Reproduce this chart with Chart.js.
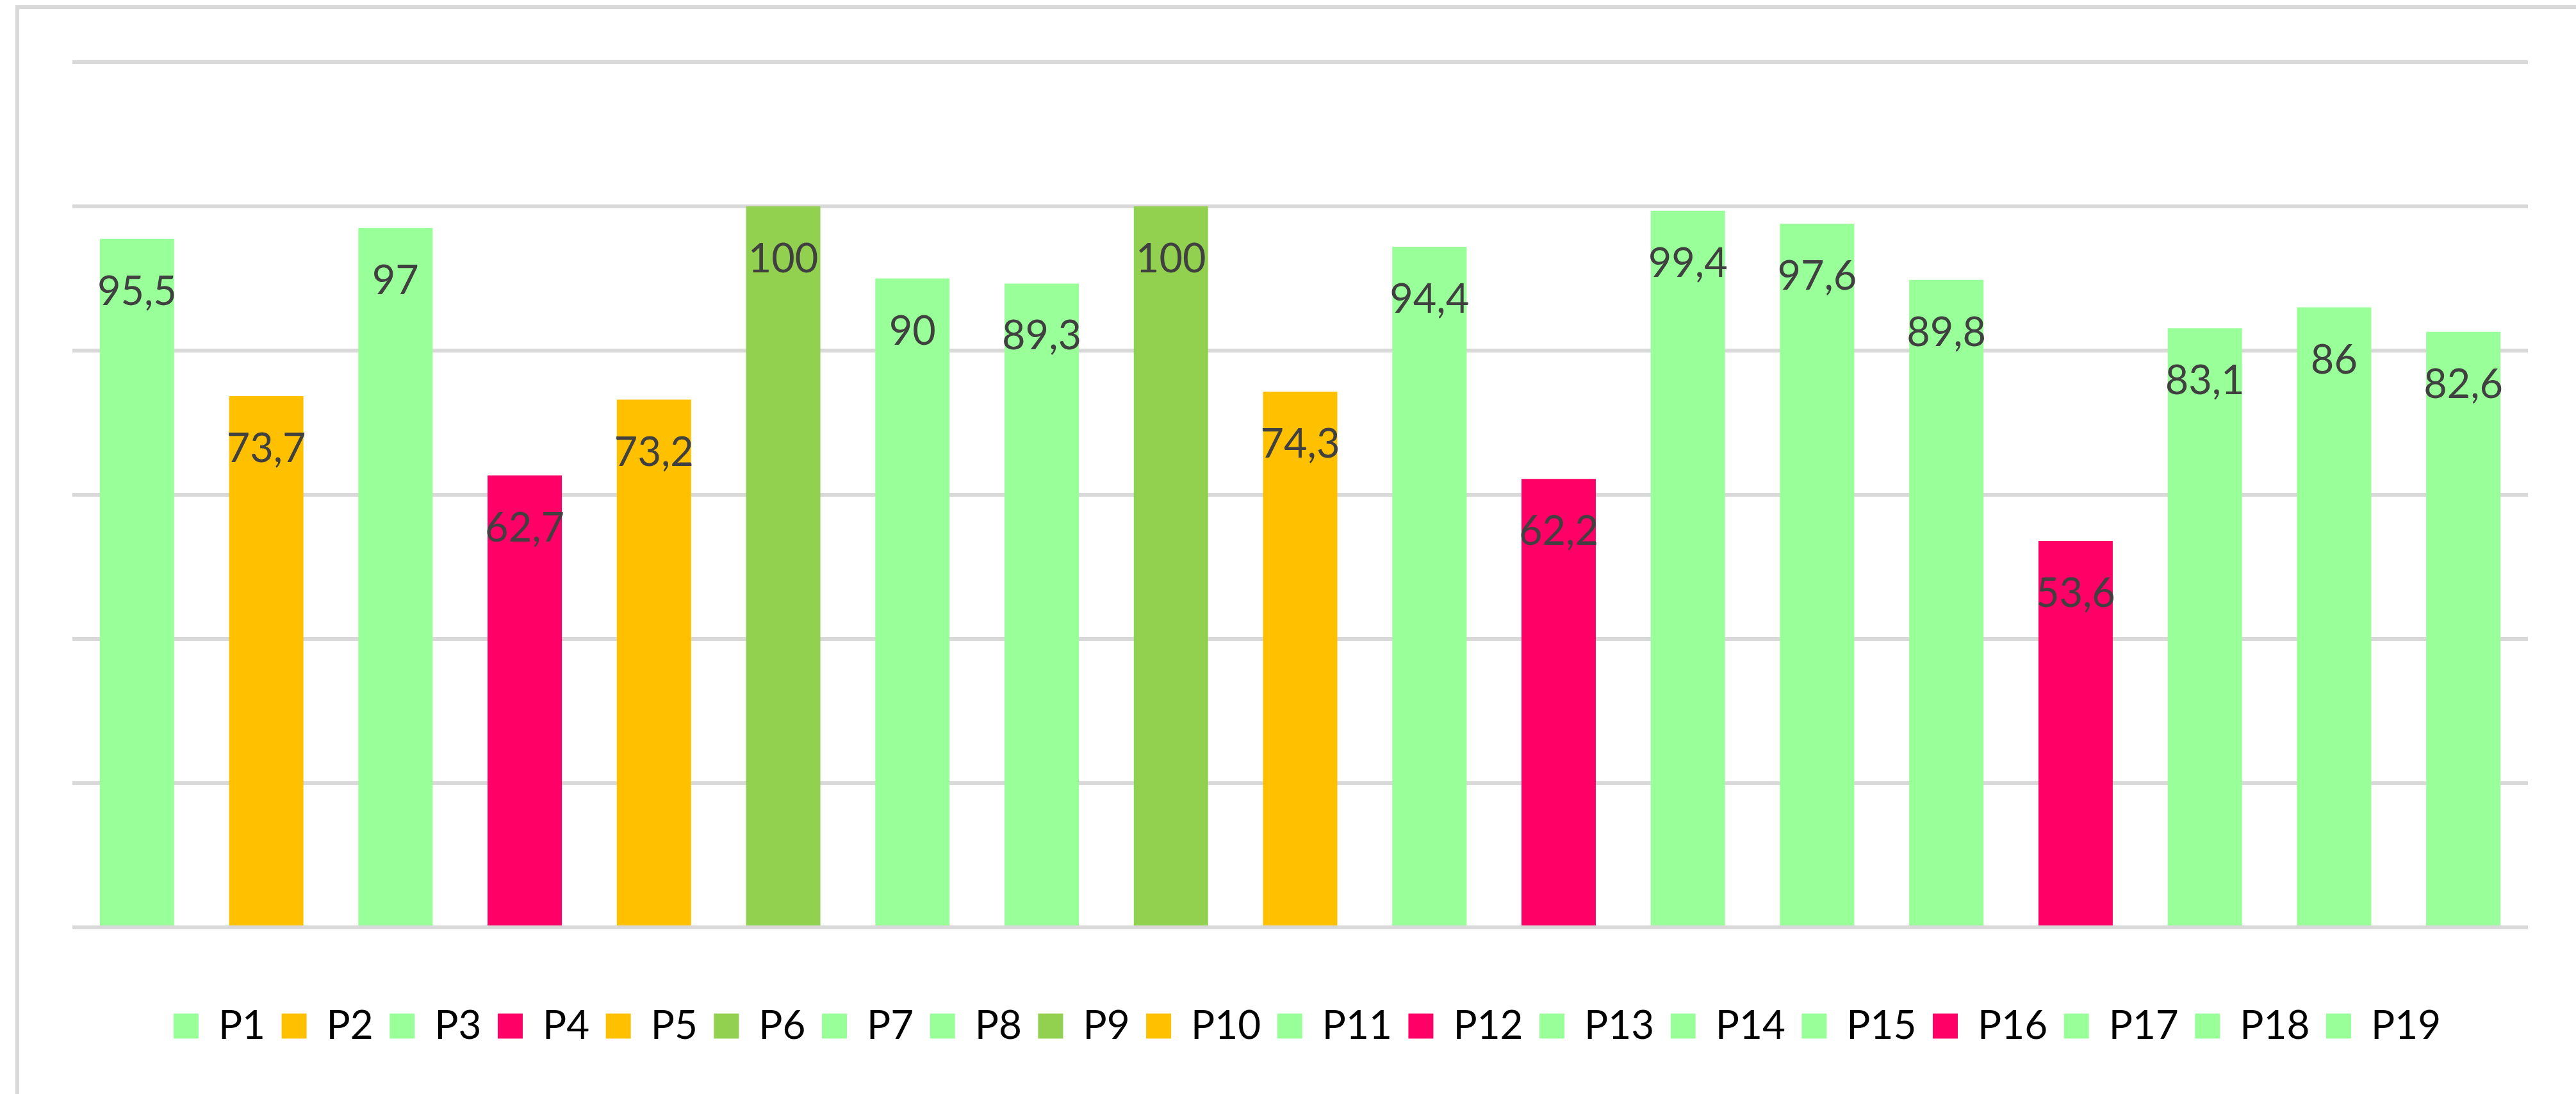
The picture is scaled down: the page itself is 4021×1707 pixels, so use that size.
<!DOCTYPE html>
<html>
<head>
<meta charset="utf-8">
<script src="https://cdn.jsdelivr.net/npm/chart.js@4.4.1/dist/chart.umd.min.js"></script>
<style>
html,body{margin:0;padding:0;background:#fff;overflow:hidden}
#wrap{position:relative;width:4021px;height:1707px}
</style>
</head>
<body>
<div id="wrap"><canvas id="c" width="4021" height="1707"></canvas></div>
<script>
const categories = ['P1','P2','P3','P4','P5','P6','P7','P8','P9','P10','P11','P12','P13','P14','P15','P16','P17','P18','P19'];
const values = [95.5, 73.7, 97, 62.7, 73.2, 100, 90, 89.3, 100, 74.3, 94.4, 62.2, 99.4, 97.6, 89.8, 53.6, 83.1, 86, 82.6];
const LG = '#99FF99', OR = '#FFC000', PK = '#FF0066', GR = '#92D050';
const barColors = [LG, OR, LG, PK, OR, GR, LG, LG, GR, OR, LG, PK, LG, LG, LG, PK, LG, LG, LG];
const yTicks = [0, 20, 40, 60, 80, 100, 120];

const FONT = 'Lato, "Open Sans", sans-serif';

const framePlugin = {
  id: 'frame',
  beforeDraw(chart) {
    const ctx = chart.ctx;
    ctx.save();
    ctx.fillStyle = '#ffffff';
    ctx.fillRect(0, 0, chart.width, chart.height);
    ctx.fillStyle = '#d9d9d9';
    ctx.fillRect(24, 8, 6, chart.height);
    ctx.fillRect(24, 8, chart.width, 6);
    ctx.restore();
  },
  afterLayout(chart) {
    if (chart.legend) { chart.legend.left += 11; chart.legend.right += 11; }
  }
};

const labelPlugin = {
  id: 'barLabels',
  afterDatasetsDraw(chart) {
    const ctx = chart.ctx;
    const meta = chart.getDatasetMeta(0);
    ctx.save();
    ctx.font = '63px ' + FONT;
    ctx.fillStyle = '#404040';
    ctx.textAlign = 'center';
    ctx.textBaseline = 'alphabetic';
    meta.data.forEach((bar, i) => {
      const txt = String(values[i]).replace('.', ',');
      ctx.fillText(txt, bar.x, bar.y + 103);
    });
    ctx.restore();
  }
};

new Chart(document.getElementById('c'), {
  type: 'bar',
  data: {
    labels: categories,
    datasets: [{
      data: values,
      backgroundColor: barColors,
      borderWidth: 0,
      categoryPercentage: 1,
      barPercentage: 0.575
    }]
  },
  options: {
    responsive: false,
    animation: false,
    devicePixelRatio: 1,
    layout: { padding: { left: 113, right: 75, top: 97, bottom: 65 } },
    scales: {
      x: {
        grid: { display: false },
        border: { display: false },
        ticks: { display: false },
        afterFit(scale) { scale.height = 97.5; }
      },
      y: {
        min: 0,
        max: 120,
        afterBuildTicks(scale) { scale.ticks = yTicks.map(v => ({ value: v })); },
        ticks: { display: false },
        grid: { color: '#d9d9d9', lineWidth: 6, drawTicks: false },
        border: { display: false },
        afterFit(scale) { scale.width = 0; }
      }
    },
    plugins: {
      tooltip: { enabled: false },
      legend: {
        position: 'bottom',
        labels: {
          font: { family: FONT, size: 62 },
          color: '#595959',
          boxWidth: 39,
          boxHeight: 39,
          padding: 25.5,
          generateLabels() {
            return categories.map((c, i) => ({
              text: c,
              fillStyle: barColors[i],
              strokeStyle: barColors[i],
              lineWidth: 0,
              hidden: false,
              index: i
            }));
          }
        }
      }
    }
  },
  plugins: [framePlugin, labelPlugin]
});
</script>
</body>
</html>
